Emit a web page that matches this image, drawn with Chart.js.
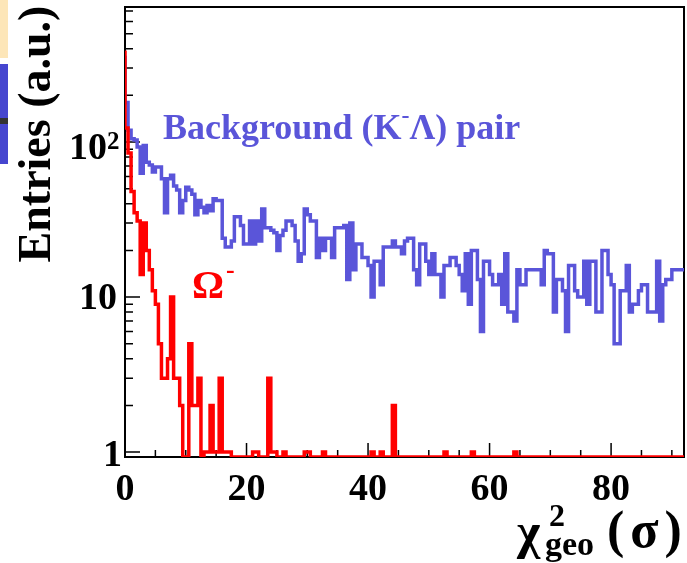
<!DOCTYPE html>
<html>
<head>
<meta charset="utf-8">
<script src="https://cdn.jsdelivr.net/npm/chart.js@4.4.1/dist/chart.umd.min.js"></script>
<style>
  html, body { margin: 0; padding: 0; background: #fff; }
  canvas { display: block; }
</style>
</head>
<body>
<canvas id="chart" width="687" height="563"></canvas>
<script>
// histogram binning (chi2_geo, sigma)
const binWidth = 0.5;
const xMin = 0;
const xMax = 92;
const yMin = 0.93;
const yMax = 743;

// background (K- Lambda) pair entries per bin
const backgroundCounts = [
  360, 180, 119, 105, 103, 93, 63, 95, 74, 71,
  64, 69, 69, 58, 35, 58, 61, 52, 49, 35,
  42, 51, 49, 46, 34, 42, 38, 35, 39, 36,
  43, 42, 42, 24, 21, 21, 23, 33, 33, 29,
  22, 22, 31, 22, 31, 23, 37, 28, 28, 27,
  26, 20, 25, 27, 31, 31, 29, 23, 17, 19,
  37, 34, 31, 31, 18, 24, 20, 24, 24, 18,
  28, 28, 28, 29, 13, 30, 15, 22, 22, 18,
  18, 16, 10, 17, 17, 12, 21, 21, 21, 23,
  21, 21, 19, 23, 24, 24, 15, 12, 22, 22,
  17, 14, 19, 14, 14, 10, 16, 16, 18, 18,
  16, 14, 11, 19, 9, 20, 20, 13, 6, 17,
  17, 14, 12, 12, 14, 9, 19, 8, 8, 7,
  15, 12, 12, 15, 15, 15, 15, 15, 12, 20,
  19, 19, 8, 13, 13, 11, 6, 16, 16, 11,
  10, 10, 17, 9, 17, 17, 8, 8, 20, 20,
  14, 12, 5, 5, 11, 11, 16, 8, 9, 9,
  11, 12, 12, 8, 8, 8, 17, 7, 12, 13,
  13, 15, 15, 15
];

// Omega- entries per bin
const omegaCounts = [
  390, 123, 85, 48, 35, 31, 14, 30, 20, 15,
  11, 9, 5, 3, 3, 4, 10, 3, 3, 2,
  0, 0, 5, 2, 2, 3, 0, 1, 1, 2,
  1, 1, 3, 1, 1, 1, 0, 0, 0, 0,
  0, 0, 0, 1, 1, 0, 0, 0, 3, 1,
  1, 0, 0, 1, 0, 0, 0, 0, 0, 0,
  1, 1, 0, 0, 0, 0, 1, 0, 0, 0,
  0, 0, 0, 0, 0, 0, 0, 0, 0, 0,
  0, 0, 1, 0, 0, 1, 0, 0, 0, 2,
  0, 0, 0, 0, 0, 0, 0, 0, 0, 0,
  0, 0, 0, 0, 0, 0, 1, 0, 0, 0,
  0, 0, 0, 0, 0, 1, 0, 0, 0, 0,
  0, 0, 0, 0, 0, 0, 0, 0, 0, 1,
  0, 0, 0, 0, 0, 0, 0, 0, 0, 0,
  0, 0, 0, 0, 0, 0, 0, 0, 0, 0,
  0, 0, 0, 0, 0, 0, 0, 0, 0, 0,
  0, 0, 0, 0, 0, 0, 0, 0, 0, 0,
  0, 0, 0, 0, 0, 0, 0, 0, 0, 0,
  0, 0, 0, 0
];

const xTickValues = [0, 20, 40, 60, 80];
const yTickValues = [1, 10, 100];

const BLUE = "#5a55d9";
const RED = "#ff0000";
const SERIF = "'Liberation Serif', 'DejaVu Serif', serif";

// turn bin counts into step points (left edges + closing right edge)
// empty bins sit on the axis floor, like ROOT draws them on a log axis
function histPoints(counts) {
  const val = c => (c > 0 ? c : yMin);
  const pts = counts.map((c, i) => ({ x: xMin + i * binWidth, y: val(c) }));
  pts.push({ x: xMin + counts.length * binWidth, y: val(counts[counts.length - 1]) });
  return pts;
}

// draw a run of text pieces with different sizes / baseline shifts
function drawRuns(ctx, x, y, runs, color) {
  ctx.fillStyle = color;
  ctx.textAlign = "left";
  ctx.textBaseline = "alphabetic";
  let cx = x;
  runs.forEach(r => {
    ctx.font = "bold " + r.size + "px " + SERIF;
    ctx.fillText(r.text, cx, y + (r.dy || 0));
    cx += ctx.measureText(r.text).width + (r.gap || 0);
  });
}

const framePlugin = {
  id: "frame",
  beforeDraw(chart) {
    const ctx = chart.ctx;
    // slide leftovers at the left edge
    ctx.save();
    ctx.fillStyle = "#fde6b8";
    ctx.fillRect(0, 0, 8, 58);
    ctx.fillStyle = "#4646cf";
    ctx.fillRect(0, 64, 8, 100);
    ctx.fillStyle = "#333";
    ctx.fillRect(0, 118, 8, 6);
    ctx.restore();
  },
  beforeDatasetsDraw(chart) {
    const { ctx, chartArea: a, scales } = chart;
    ctx.save();
    ctx.strokeStyle = "#000";
    ctx.lineWidth = 2;
    ctx.strokeRect(a.left, a.top, a.right - a.left, a.bottom - a.top);

    ctx.lineWidth = 1.5;
    ctx.beginPath();
    // y ticks (log), drawn inward
    for (let dec = 1; dec <= 100; dec *= 10) {
      for (let m = 1; m <= 9; m++) {
        const v = dec * m;
        if (v > yMax) break;
        const py = scales.y.getPixelForValue(v);
        const len = m === 1 ? 15 : 8;
        ctx.moveTo(a.left, py);
        ctx.lineTo(a.left + len, py);
      }
    }
    // x ticks, drawn inward
    for (let v = 0; v <= xMax; v += 5) {
      const px = scales.x.getPixelForValue(v);
      const len = v % 20 === 0 ? 14 : 7;
      ctx.moveTo(px, a.bottom);
      ctx.lineTo(px, a.bottom - len);
    }
    ctx.stroke();

    // y tick labels: 1, 10, 10^2
    ctx.fillStyle = "#000";
    ctx.textAlign = "right";
    ctx.textBaseline = "alphabetic";
    ctx.font = "bold 38px " + SERIF;
    const y1 = scales.y.getPixelForValue(yTickValues[0]);
    const y10 = scales.y.getPixelForValue(yTickValues[1]);
    const y100 = scales.y.getPixelForValue(yTickValues[2]);
    ctx.fillText("1", 122, y1 + 14);
    ctx.fillText("10", 117, y10 + 12);
    ctx.fillText("10", 107, y100 + 17);
    ctx.textAlign = "left";
    ctx.font = "bold 25px " + SERIF;
    ctx.fillText("2", 107, y100 + 7);
    ctx.restore();
  },
  afterDraw(chart) {
    const ctx = chart.ctx;
    ctx.save();
    // legends in the plot
    drawRuns(ctx, 163, 139, [
      { text: "Background (K", size: 36 },
      { text: "-", size: 24, dy: -16 },
      { text: "\u039B) pair", size: 36 }
    ], BLUE);
    drawRuns(ctx, 192, 298, [
      { text: "\u03A9", size: 40, gap: 2 },
      { text: "-", size: 26, dy: -20 }
    ], RED);

    // y axis title
    ctx.fillStyle = "#000";
    ctx.font = "bold 46px " + SERIF;
    ctx.textAlign = "center";
    ctx.textBaseline = "alphabetic";
    ctx.translate(50, 134);
    ctx.rotate(-Math.PI / 2);
    ctx.fillText("Entries (a.u.)", 0, 0);
    ctx.restore();

    // x axis title: chi^2_geo (sigma)
    ctx.save();
    ctx.fillStyle = "#000";
    ctx.textBaseline = "alphabetic";
    ctx.textAlign = "left";
    ctx.font = "bold 50px " + SERIF;
    ctx.fillText("\u03C7", 517, 548);
    ctx.font = "bold 32px " + SERIF;
    ctx.fillText("2", 549, 526);
    ctx.font = "bold 34px " + SERIF;
    ctx.fillText("geo", 545, 555);
    drawRuns(ctx, 607, 547, [
      { text: "(", size: 52, gap: 6 },
      { text: "\u03C3", size: 52, gap: 6 },
      { text: ")", size: 52 }
    ], "#000");
    ctx.restore();
  }
};

new Chart(document.getElementById("chart"), {
  type: "line",
  data: {
    datasets: [
      {
        label: "Background (K-Lambda) pair",
        data: histPoints(backgroundCounts),
        borderColor: BLUE,
        borderWidth: 3.5,
        stepped: "after",
        pointRadius: 0,
        fill: false,
        order: 2
      },
      {
        label: "Omega-",
        data: histPoints(omegaCounts),
        borderColor: RED,
        borderWidth: 3.5,
        stepped: "after",
        pointRadius: 0,
        fill: false,
        order: 1
      }
    ]
  },
  options: {
    responsive: false,
    animation: false,
    devicePixelRatio: 1,
    layout: { padding: { left: 0, right: 3, top: 7, bottom: 0 } },
    plugins: {
      legend: { display: false },
      tooltip: { enabled: false }
    },
    scales: {
      x: {
        type: "linear",
        min: xMin,
        max: xMax,
        grid: { display: false, drawTicks: false },
        border: { display: false },
        afterBuildTicks: s => { s.ticks = xTickValues.map(v => ({ value: v })); },
        afterFit: s => { s.height = 106; s.paddingLeft = 0; s.paddingRight = 0; },
        ticks: {
          font: { family: SERIF, weight: "bold", size: 38 },
          color: "#000",
          padding: 10,
          autoSkip: false,
          maxRotation: 0,
          callback: v => String(v)
        }
      },
      y: {
        type: "logarithmic",
        min: yMin,
        max: yMax,
        grid: { display: false, drawTicks: false },
        border: { display: false },
        afterBuildTicks: s => { s.ticks = yTickValues.map(v => ({ value: v })); },
        afterFit: s => { s.width = 125; s.paddingTop = 0; s.paddingBottom = 0; },
        ticks: { display: false }
      }
    }
  },
  plugins: [framePlugin]
});
</script>
</body>
</html>
